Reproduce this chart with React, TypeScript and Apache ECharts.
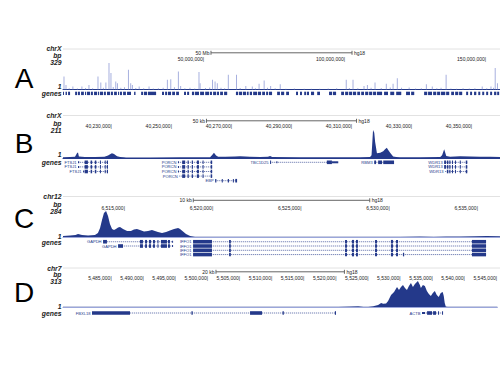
import React, { useEffect, useRef } from 'react';
import * as echarts from 'echarts';

const NAVY = '#24398a';
const PALE = '#9ba6da';
const SPIKE = '#a7b0df';
const FONT = '"Liberation Sans", Arial, Helvetica, sans-serif';

// ---------- panel meta ----------
const panelLetters = ['A', 'B', 'C', 'D'];
const chromNames = ['chrX', 'chrX', 'chr12', 'chr7'];
const maxLabels = ['329', '211', '284', '313'];
const maxValues = [329, 211, 284, 313];
const scaleLabels = ['50 Mb', '50 kb', '10 kb', '20 kb'];
const scaleLengths = [50, 50, 10, 20];
const assembly = 'hg18';
const axisMin = [0, 40213.7, 6511.49, 5477.42];
const axisMax = [154.9, 40359.3, 6536.25, 5545.06];
const unitBp = [1e6, 1e3, 1e3, 1e3];
const ticksA = [50, 100, 150];
const ticksB = [40230, 40250, 40270, 40290, 40310, 40330, 40350];
const ticksC = [6515, 6520, 6525, 6530, 6535];
const ticksD = [5485, 5490, 5495, 5500, 5505, 5510, 5515, 5520, 5525, 5530, 5535, 5540, 5545];

// ---------- panel A (Mb, signal) ----------
const spikesA = [
  [0.35, 160], [1.06, 55], [2.2, 12], [3.5, 34], [5.1, 10], [6.7, 34], [8.0, 15], [9.2, 55], [10.5, 12],
  [12.4, 160], [13.4, 84], [14.3, 20], [15.2, 84], [16.3, 329], [17.0, 203], [17.8, 30], [18.7, 97],
  [19.3, 76], [20.5, 18], [21.8, 25], [23.2, 245], [24.0, 76], [24.6, 55], [25.8, 15], [27.0, 34],
  [28.6, 12], [30.5, 34], [32.0, 10], [33.8, 14], [35.5, 20], [37.0, 118], [38.2, 127], [39.5, 25],
  [40.9, 224], [41.7, 42], [43.2, 12], [45.0, 18], [46.7, 10], [48.2, 215], [48.6, 76], [50.5, 15],
  [52.0, 22], [53.0, 118], [53.9, 97], [54.7, 76], [56.0, 20], [57.3, 12], [58.6, 181], [61.5, 181],
  [62.8, 15], [64.8, 42], [67.1, 34], [68.2, 14], [69.5, 68], [71.3, 110], [72.5, 18], [73.6, 42],
  [75.2, 12], [77.0, 63], [79.0, 8], [82.0, 10], [85.5, 6], [88.0, 8], [91.0, 7], [94.0, 9], [97.0, 12],
  [100.4, 118], [101.5, 15], [102.8, 118], [104.5, 12], [106.7, 42], [107.9, 55], [109.2, 20],
  [110.6, 84], [112.8, 15], [114.6, 68], [116.0, 22], [117.0, 68], [118.5, 139], [120.0, 18],
  [122.7, 21], [125.0, 10], [127.0, 14], [128.8, 63], [130.9, 34], [132.5, 12], [134.0, 20],
  [135.8, 181], [137.5, 10], [139.5, 8], [141.8, 12], [144.0, 10], [146.0, 14], [148.6, 34],
  [150.2, 12], [151.7, 34], [152.6, 20], [153.2, 266], [154.0, 76],
];

const geneBlocksA = [
  [0.0, 0.35], [0.9, 1.4], [1.8, 2.5],
  [4.3, 5.0], [5.3, 6.0], [6.4, 7.4], [7.8, 8.2], [8.5, 9.6], [9.9, 10.6], [11.0, 12.1], [12.4, 12.8],
  [13.1, 14.2], [14.5, 15.2], [15.6, 16.7], [17.0, 17.7], [18.1, 19.1], [19.5, 19.9], [20.2, 20.9],
  [21.3, 22.3], [22.7, 24.1], [25.2, 25.7],
  [27.7, 28.4], [28.7, 29.8], [30.1, 33.0],
  [35.1, 35.8], [36.2, 36.9], [37.2, 38.3], [38.7, 39.7], [40.1, 41.1],
  [42.9, 43.6], [44.0, 44.7],
  [45.7, 46.5], [46.8, 48.2], [48.6, 50.0], [50.4, 51.8], [52.1, 52.8], [53.2, 54.3],
  [54.6, 55.3], [55.7, 56.7], [57.1, 58.2],
  [61.3, 62.1], [62.4, 63.5], [63.8, 64.9], [65.2, 65.8], [66.2, 67.0], [67.4, 68.8], [69.1, 70.2],
  [70.6, 71.6], [72.0, 72.7], [73.0, 74.1],
  [75.9, 76.9], [77.3, 78.4], [79.1, 80.1],
  [82.6, 83.3], [84.0, 84.7], [85.5, 86.2], [86.5, 87.2], [87.9, 89.0], [90.1, 91.1],
  [94.3, 95.4], [95.7, 96.8],
  [98.6, 99.6], [100.0, 101.1], [101.4, 102.5], [102.8, 103.9], [104.3, 105.3], [105.7, 106.7],
  [107.1, 108.2], [108.5, 109.6], [109.9, 111.0], [111.3, 113.1],
  [113.8, 115.2], [116.0, 117.4], [118.1, 119.9],
  [121.6, 123.0], [123.4, 124.5],
  [128.0, 129.1], [129.4, 130.8], [131.2, 132.3], [132.6, 133.7], [134.0, 135.5], [135.8, 136.9],
  [137.6, 138.6], [139.0, 140.1], [140.4, 141.5],
  [142.9, 143.6], [144.3, 145.0], [145.7, 146.5], [147.2, 147.9], [148.6, 149.3], [150.0, 150.7],
  [151.4, 152.1], [152.8, 153.6], [153.9, 154.6],
];

// ---------- panel B (kb) ----------
const signalB = [
  [40213.7, 6], [40216.0, 8], [40217.7, 10], [40218.4, 38], [40218.7, 42], [40219.0, 12], [40221.0, 7],
  [40224.4, 8], [40227.5, 10], [40228.7, 18], [40229.4, 28], [40230.0, 35], [40230.7, 30], [40231.7, 14],
  [40232.7, 7], [40234.0, 5], [40234.7, 4], [40242.7, 4], [40252.7, 5], [40262.7, 6], [40263.4, 22],
  [40264.0, 40], [40264.7, 18], [40265.4, 10], [40267.7, 9], [40271.0, 11], [40272.7, 14], [40274.4, 12],
  [40276.0, 9], [40279.4, 7], [40282.0, 10], [40282.7, 15], [40283.4, 8], [40292.7, 5], [40302.7, 5],
  [40312.7, 6], [40316.0, 7], [40316.5, 20], [40317.0, 211], [40317.4, 190], [40317.7, 120],
  [40318.3, 35], [40319.4, 40], [40320.4, 50], [40321.0, 65], [40321.6, 78], [40322.0, 62],
  [40322.7, 40], [40323.7, 12], [40324.7, 7], [40326.0, 6], [40332.7, 6], [40339.4, 7], [40340.0, 20],
  [40340.7, 66], [40341.4, 15], [40342.7, 10], [40346.0, 14], [40349.4, 12], [40352.7, 10],
  [40356.0, 9], [40359.3, 8],
];

const ftsj1Exons = [[40218.7, 40219.1, 0], [40220.9, 40222.0, 1], [40222.9, 40223.4, 1], [40224.3, 40224.8, 1], [40226.0, 40226.3, 1], [40227.6, 40227.9, 1], [40228.3, 40228.7, 1]];
const porcnExons = [[40252.0, 40252.3, 0], [40253.4, 40254.4, 1], [40255.2, 40255.6, 1], [40256.6, 40257.0, 1], [40258.3, 40259.0, 1], [40260.2, 40260.5, 1], [40262.9, 40263.4, 1]];
const wdr13Exons = [[40340.7, 40341.3, 1], [40341.6, 40342.1, 1], [40342.4, 40342.8, 1], [40343.3, 40343.6, 1], [40344.3, 40344.6, 1], [40345.9, 40346.2, 1], [40347.9, 40348.4, 1]];
const genesB = [
  { name: 'FTSJ1', row: 0, start: 40218.7, end: 40228.7, exons: ftsj1Exons },
  { name: 'FTSJ1', row: 1, start: 40218.7, end: 40228.7, exons: ftsj1Exons },
  { name: 'FTSJ1', row: 2, start: 40220.4, end: 40228.7, exons: [[40220.4, 40220.6, 0], ...ftsj1Exons.slice(1)] },
  { name: 'PORCN', row: 0, start: 40252.0, end: 40263.4, exons: porcnExons },
  { name: 'PORCN', row: 1, start: 40252.0, end: 40263.4, exons: porcnExons },
  { name: 'PORCN', row: 2, start: 40252.0, end: 40263.4, exons: porcnExons },
  { name: 'PORCN', row: 3, start: 40252.4, end: 40263.4, exons: porcnExons.slice(1) },
  { name: 'EBP', row: 4, start: 40264.4, end: 40271.7, exons: [[40264.4, 40264.8, 1], [40266.6, 40266.9, 1], [40268.6, 40269.0, 1], [40270.3, 40270.6, 1], [40271.1, 40271.7, 1]] },
  { name: 'TBC1D25', row: 0, start: 40282.7, end: 40305.4, exons: [[40282.7, 40283.0, 1], [40284.8, 40285.0, 0], [40301.6, 40303.3, 1], [40303.3, 40305.4, 0]] },
  { name: 'RBM3', row: 0, start: 40317.4, end: 40324.0, exons: [[40317.4, 40318.0, 1], [40318.7, 40320.0, 1], [40320.4, 40324.0, 1]] },
  { name: 'WDR13', row: 0, start: 40340.7, end: 40348.4, exons: wdr13Exons },
  { name: 'WDR13', row: 1, start: 40340.7, end: 40348.4, exons: wdr13Exons },
  { name: 'WDR13', row: 2, start: 40341.0, end: 40348.4, exons: wdr13Exons.slice(1) },
];

// ---------- panel C (kb) ----------
const signalC = [
  [6511.49, 11], [6511.89, 16], [6512.20, 22], [6512.34, 33], [6512.57, 22], [6512.91, 16], [6513.30, 22],
  [6513.47, 44], [6513.59, 98], [6513.70, 185], [6513.81, 262], [6513.93, 284], [6514.04, 229],
  [6514.15, 142], [6514.27, 87], [6514.38, 76], [6514.49, 87], [6514.61, 104], [6514.72, 109],
  [6514.89, 87], [6515.12, 65], [6515.34, 65], [6515.51, 82], [6515.68, 87], [6515.85, 76],
  [6516.08, 60], [6516.31, 65], [6516.53, 76], [6516.70, 65], [6516.87, 55], [6517.10, 44],
  [6517.33, 55], [6517.55, 71], [6517.78, 87], [6518.01, 98], [6518.12, 87], [6518.29, 60],
  [6518.46, 33], [6518.69, 11], [6518.97, 3], [6519.5, 2], [6520.38, 3], [6521.5, 2], [6522.65, 3],
  [6523.8, 2], [6524.92, 2], [6526.0, 3], [6527.18, 2], [6528.3, 2], [6529.45, 3], [6530.6, 4],
  [6531.72, 5], [6532.5, 4], [6533.2, 6], [6533.98, 5], [6534.8, 7], [6535.5, 10], [6536.25, 9],
];

const gapdhTail = [[6515.85, 6516.02, 1], [6516.14, 6516.25, 1], [6516.36, 6516.48, 1], [6516.59, 6516.70, 1], [6516.84, 6516.90, 1], [6517.04, 6517.38, 1], [6517.44, 6517.55, 1], [6517.67, 6517.72, 0]];
const iffo1Exons = [[6518.86, 6519.93, 1], [6520.90, 6521.00, 1], [6527.47, 6527.58, 1], [6527.86, 6527.98, 1], [6528.09, 6528.20, 1], [6529.17, 6529.28, 1], [6530.07, 6530.19, 1], [6530.36, 6530.47, 1], [6534.66, 6535.46, 1]];
const genesC = [
  { name: 'GAPDH', row: 0, start: 6513.76, end: 6517.72, exons: [[6513.76, 6513.98, 1], ...gapdhTail] },
  { name: 'GAPDH', row: 1, start: 6514.61, end: 6517.72, exons: [[6514.61, 6514.89, 1], ...gapdhTail] },
  { name: 'IFFO1', row: 0, start: 6518.86, end: 6535.46, exons: iffo1Exons },
  { name: 'IFFO1', row: 1, start: 6518.86, end: 6535.46, exons: iffo1Exons },
  { name: 'IFFO1', row: 2, start: 6518.86, end: 6535.46, exons: iffo1Exons },
  { name: 'IFFO1', row: 3, start: 6518.86, end: 6535.46, exons: [...iffo1Exons, [6530.75, 6530.82, 1]] },
];

// ---------- panel D (kb) ----------
const signalD = [
  [5477.42, 2], [5480, 2], [5483.15, 3], [5486, 2], [5487.79, 2], [5490, 3], [5492.44, 3], [5495, 2],
  [5497.08, 3], [5499, 3], [5501.72, 2], [5504, 3], [5506.37, 3], [5509, 2], [5511.01, 3], [5513, 3],
  [5515.66, 2], [5518, 4], [5520.30, 3], [5522, 5], [5523.39, 10], [5524.2, 4], [5524.94, 4],
  [5525.72, 8], [5526.49, 24], [5526.96, 48], [5527.27, 40], [5527.73, 42], [5528.04, 72],
  [5528.50, 144], [5528.97, 181], [5529.43, 241], [5529.74, 205], [5530.05, 241], [5530.36, 265],
  [5530.67, 229], [5530.98, 205], [5531.29, 253], [5531.60, 289], [5531.91, 241], [5532.22, 277],
  [5532.53, 301], [5532.68, 313], [5532.99, 265], [5533.15, 229], [5533.46, 265], [5533.77, 253],
  [5534.08, 193], [5534.39, 157], [5534.70, 132], [5535.01, 169], [5535.32, 193], [5535.62, 144],
  [5535.93, 120], [5536.24, 169], [5536.55, 181], [5536.71, 132], [5536.86, 48], [5537.02, 5],
  [5537.33, 3], [5540.42, 2], [5545.06, 3],
];

const genesD = [
  { name: 'FBXL18', row: 0, start: 5481.91, end: 5519.68, exons: [[5481.91, 5487.79, 1], [5497.30, 5497.50, 1], [5506.37, 5508.23, 1], [5511.40, 5511.60, 1], [5519.50, 5519.68, 1]] },
  { name: 'ACTB', row: 0, start: 5532.99, end: 5536.24, exons: [[5532.99, 5533.46, 0], [5533.77, 5534.54, 1], [5534.70, 5535.16, 1], [5535.47, 5535.60, 1], [5536.09, 5536.24, 1]] },
];

// ---------- layout (pixels) ----------
const layout = [
  { letterY: 78, chromY: 48.5, bpY: 55.5, maxY: 62.5, oneY: 86.5, genesY: 93.5, topLineY: 49, scaleY: 52.8, sigTop: 63, sigH: 26.3, geneTop: 91.7, geneH: 3.4, rows: 1, labelMargin: 2, baseColor: NAVY },
  { letterY: 143, chromY: 115.5, bpY: 123, maxY: 130, oneY: 154, genesY: 162.5, topLineY: 115.5, scaleY: 120.8, sigTop: 130, sigH: 28, geneTop: 160, geneH: 23, rows: 5, labelMargin: 1.6, baseColor: NAVY },
  { letterY: 218, chromY: 196.5, bpY: 204, maxY: 211, oneY: 236, genesY: 242.5, topLineY: 196.5, scaleY: 200.3, sigTop: 211, sigH: 26, geneTop: 239.6, geneH: 17.1, rows: 4, labelMargin: 0.7, baseColor: PALE },
  { letterY: 292, chromY: 268, bpY: 274.5, maxY: 281.5, oneY: 306.5, genesY: 313.5, topLineY: 268, scaleY: 271.8, sigTop: 281, sigH: 26, geneTop: 311, geneH: 4, rows: 1, labelMargin: 0.7, baseColor: PALE },
];

function geneSeries(txs: any[], xAxisIndex: number, yAxisIndex: number) {
  return {
    type: 'custom',
    xAxisIndex,
    yAxisIndex,
    clip: false,
    data: txs.map((t) => [t.start, t.end, t.row]),
    renderItem: (params: any, api: any) => {
      const t = txs[params.dataIndex];
      const p0 = api.coord([t.start, t.row]);
      const p1 = api.coord([t.end, t.row]);
      const children: any[] = [];
      children.push({
        type: 'line',
        shape: { x1: p0[0], y1: p0[1], x2: p1[0], y2: p0[1] },
        style: { stroke: NAVY, lineWidth: 0.8, lineDash: [1.2, 0.8], opacity: 0.8 },
      });
      t.exons.forEach((e: number[]) => {
        const a = api.coord([e[0], t.row]);
        const b = api.coord([e[1], t.row]);
        const h = e[2] ? 3.6 : 2;
        children.push({
          type: 'rect',
          shape: { x: a[0], y: a[1] - h / 2, width: Math.max(b[0] - a[0], 1), height: h },
          style: { fill: NAVY },
        });
      });
      children.push({
        type: 'text',
        x: p0[0] - 1.5,
        y: p0[1],
        style: { text: t.name, fill: NAVY, fontSize: 4.1, fontFamily: FONT, align: 'right', verticalAlign: 'middle' },
      });
      return { type: 'group', children };
    },
  };
}

export default function App() {
  const ref = useRef<HTMLDivElement>(null);
  useEffect(() => {
    const chart = echarts.init(ref.current!, null, { renderer: 'svg' });
    const grids: any[] = [];
    const xAxes: any[] = [];
    const yAxes: any[] = [];
    const tickSets = [ticksA, ticksB, ticksC, ticksD];
    for (let p = 0; p < 4; p++) {
      const L = layout[p];
      grids.push({ left: 63, right: 0, top: L.sigTop, height: L.sigH, containLabel: false });
      grids.push({ left: 63, right: 0, top: L.geneTop, height: L.geneH, containLabel: false });
      xAxes.push({
        type: 'value', gridIndex: 2 * p, min: axisMin[p], max: axisMax[p], position: 'bottom',
        axisLine: { show: true, lineStyle: { color: L.baseColor, width: 1 } },
        axisTick: { show: false }, axisLabel: { show: false }, splitLine: { show: false },
      });
      const unit = unitBp[p];
      xAxes.push({
        type: 'value', gridIndex: 2 * p, min: axisMin[p], max: axisMax[p], position: 'top',
        axisLine: { show: false }, axisTick: { show: false }, splitLine: { show: false },
        axisLabel: {
          show: true, customValues: tickSets[p],
          formatter: (v: number) => Math.round(v * unit).toLocaleString('en-US') + '|',
          fontSize: 5, color: '#222', fontFamily: FONT, align: 'right', margin: L.labelMargin,
          showMinLabel: true, showMaxLabel: true,
        },
      });
      xAxes.push({ type: 'value', gridIndex: 2 * p + 1, min: axisMin[p], max: axisMax[p], show: false });
      yAxes.push({ type: 'value', gridIndex: 2 * p, min: 0, max: maxValues[p], show: false });
      if (p === 0) {
        yAxes.push({ type: 'value', gridIndex: 1, min: 0, max: 1, show: false });
      } else {
        yAxes.push({ type: 'value', gridIndex: 2 * p + 1, min: -0.5, max: L.rows - 0.5, inverse: true, show: false });
      }
    }

    const areaLine = (data: number[][], xi: number, yi: number) => ({
      type: 'line', xAxisIndex: xi, yAxisIndex: yi, data, showSymbol: false, symbol: 'none',
      lineStyle: { width: 0 }, areaStyle: { color: NAVY, opacity: 1 }, z: 3,
    });

    const series: any[] = [
      {
        type: 'bar', xAxisIndex: 0, yAxisIndex: 0, data: spikesA, barWidth: 1,
        itemStyle: { color: SPIKE }, z: 2,
      },
      {
        type: 'custom', xAxisIndex: 2, yAxisIndex: 1, clip: false, data: geneBlocksA,
        renderItem: (params: any, api: any) => {
          const a = api.coord([api.value(0), 1]);
          const b = api.coord([api.value(1), 0]);
          return { type: 'rect', shape: { x: a[0], y: a[1], width: Math.max(b[0] - a[0], 1), height: b[1] - a[1] }, style: { fill: NAVY } };
        },
      },
      areaLine(signalB, 3, 2),
      geneSeries(genesB, 5, 3),
      areaLine(signalC, 6, 4),
      geneSeries(genesC, 8, 5),
      areaLine(signalD, 9, 6),
      geneSeries(genesD, 11, 7),
    ];

    chart.setOption({
      animation: false,
      backgroundColor: '#ffffff',
      grid: grids,
      xAxis: xAxes,
      yAxis: yAxes,
      series,
    });

    const graphics: any[] = [];
    const lbl = (text: string, y: number) => ({
      type: 'text', x: 61.5, y,
      style: { text, fill: '#222', fontSize: 6.8, fontStyle: 'italic', fontWeight: 'bold', fontFamily: FONT, align: 'right', verticalAlign: 'middle' },
    });
    for (let p = 0; p < 4; p++) {
      const L = layout[p];
      graphics.push({
        type: 'text', x: 24, y: L.letterY,
        style: { text: panelLetters[p], fill: '#000', fontSize: 28, fontFamily: FONT, align: 'center', verticalAlign: 'middle' },
      });
      graphics.push(lbl(chromNames[p], L.chromY));
      graphics.push(lbl('bp', L.bpY));
      graphics.push(lbl(maxLabels[p], L.maxY));
      graphics.push(lbl('1', L.oneY));
      graphics.push(lbl('genes', L.genesY));
      graphics.push({ type: 'line', shape: { x1: 63, y1: L.topLineY, x2: 500, y2: L.topLineY }, style: { stroke: '#e2e2e2', lineWidth: 1 } });
      const c = (axisMin[p] + axisMax[p]) / 2;
      const s0 = chart.convertToPixel({ xAxisIndex: 3 * p }, c - scaleLengths[p] / 2) as number;
      const s1 = chart.convertToPixel({ xAxisIndex: 3 * p }, c + scaleLengths[p] / 2) as number;
      const y = L.scaleY;
      graphics.push({ type: 'line', shape: { x1: s0, y1: y, x2: s1, y2: y }, style: { stroke: '#666', lineWidth: 1 } });
      graphics.push({ type: 'line', shape: { x1: s0, y1: y - 2, x2: s0, y2: y + 2 }, style: { stroke: '#666', lineWidth: 1 } });
      graphics.push({ type: 'line', shape: { x1: s1, y1: y - 2, x2: s1, y2: y + 2 }, style: { stroke: '#666', lineWidth: 1 } });
      graphics.push({ type: 'text', x: s0 - 1.5, y, style: { text: scaleLabels[p], fill: '#222', fontSize: 5, fontFamily: FONT, align: 'right', verticalAlign: 'middle' } });
      graphics.push({ type: 'text', x: s1 + 2, y, style: { text: assembly, fill: '#222', fontSize: 5, fontFamily: FONT, align: 'left', verticalAlign: 'middle' } });
    }
    chart.setOption({ graphic: graphics });

    return () => chart.dispose();
  }, []);
  return <div ref={ref} style={{ position: 'absolute', left: 0, top: 0, width: 500, height: 375, background: '#fff' }} />;
}
